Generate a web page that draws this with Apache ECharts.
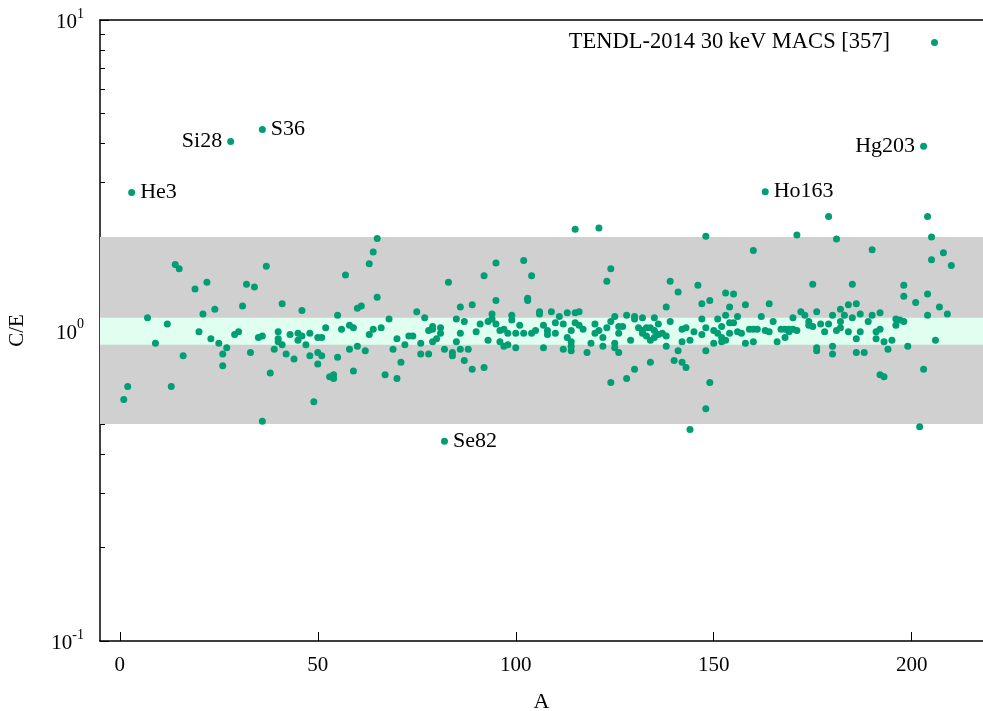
<!DOCTYPE html>
<html>
<head>
<meta charset="utf-8">
<title>TENDL-2014 30 keV MACS C/E</title>
<script src="https://cdn.jsdelivr.net/npm/echarts@6/dist/echarts.min.js"></script>
<style>
  html, body { margin: 0; padding: 0; background: #ffffff; }
  #chart { width: 983px; height: 711px; }
</style>
</head>
<body>
<div id="chart"></div>
<script>
// Calculated / experimental Maxwellian-averaged cross sections at 30 keV,
// one [A, C/E] pair per nuclide, grouped by mass range.
const lightNuclei = [
  [1,0.60],[2,0.66],[7,1.10],[9,0.91],[12,1.05],[13,0.66],[14,1.63],[15,1.58],[16,0.83],
  [19,1.36],[20,0.99],[21,1.13],[22,1.43],[23,0.94],[24,1.17],[25,0.91],[26,0.84],[26,0.77],
  [27,0.88],[29,0.97],[30,0.99],[31,1.20],[32,1.41],[33,0.85],[34,1.38],[35,0.95],[36,0.96],
  [36,0.51],[37,1.61],[38,0.73],[39,0.87],[40,0.99],[40,0.94],[40,0.92],[41,1.22],[41,0.90],
  [42,0.84],[43,0.97],[44,0.81],[45,0.98],[45,0.93],[46,1.16],[46,0.96],[47,0.90],[48,0.98],
  [48,0.83],[49,0.59],[50,0.95],[50,0.85],[50,0.78],[51,0.95],[51,0.83],[52,1.02],[53,0.71],
  [54,0.72],[54,0.70]
];
const mediumNuclei = [
  [55,1.12],[55,0.82],[56,1.01],[57,1.51],[58,1.04],[58,0.87],[59,1.02],[59,0.74],[60,1.18],
  [60,0.89],[61,1.20],[62,0.86],[63,1.64],[63,0.97],[64,1.79],[64,1.01],[65,1.98],[65,1.28],
  [66,1.02],[67,0.72],[68,1.09],[69,0.87],[70,0.70],[70,0.94],[71,0.79],[72,0.90],[73,0.96],
  [74,0.96],[75,1.15],[76,0.91],[76,0.84],[77,1.10],[78,0.84],[78,1.00],[79,1.03],[79,1.01],
  [79,0.92],[80,0.94],[81,1.02],[81,0.98],[82,0.87],[83,1.43],[84,0.85],[84,0.83],[85,0.92],
  [85,1.09],[86,1.19],[86,0.98],[86,0.87],[87,1.07],[87,0.80],[88,0.87],[89,1.21],[89,0.75],
  [90,0.99],[91,1.05],[92,1.50],[92,0.76],[93,0.93],[93,1.07],[94,1.13],[94,1.09],[95,1.65],
  [95,1.25],[95,1.05],[96,1.00],[96,0.92],[97,0.89],[97,1.01],[98,0.98],[98,0.90],[99,1.12],
  [99,1.08],[100,0.98],[100,0.88],[101,1.04],[102,1.68],[102,0.98],[103,1.27],[103,1.25],
  [104,1.50],[104,0.98],[105,1.00],[106,1.15],[106,1.13],[107,1.04],[107,0.88],[108,1.00],
  [108,0.97],[109,1.15]
];
const heavyNuclei = [
  [110,1.06],[110,0.98],[111,1.11],[112,1.05],[112,0.87],[113,1.14],[113,0.95],[114,1.00],
  [114,0.92],[114,0.89],[114,0.86],[115,2.12],[115,1.14],[115,1.06],[116,1.15],[116,1.04],
  [117,1.01],[118,0.85],[119,0.91],[120,0.98],[120,1.05],[121,2.14],[121,1.00],[122,0.95],
  [122,0.89],[123,1.44],[123,1.02],[124,1.58],[124,1.07],[124,0.68],[125,1.11],[125,0.91],
  [125,0.88],[126,1.03],[126,0.98],[126,0.85],[127,1.03],[128,1.12],[128,0.70],[129,0.93],
  [130,1.11],[130,1.09],[130,0.75],[131,1.02],[132,1.10],[132,1.00],[132,0.98],[133,1.02],
  [133,0.96],[134,1.02],[134,0.93],[134,0.79],[135,1.10],[135,1.00],[135,0.95],[136,1.05],
  [136,0.97],[137,0.98],[138,1.19],[138,0.96],[138,0.89],[139,1.44],[139,1.07],[140,0.80],
  [141,1.33],[141,0.86],[142,0.79],[142,0.92],[142,1.01],[143,1.02],[143,0.76],[144,0.93],
  [144,0.48],[145,0.99],[146,1.40],[147,1.22],[147,1.09],[147,0.97],[148,2.01],[148,1.02],
  [148,0.86],[148,0.56],[149,1.25],[149,0.68],[150,1.00],[150,0.91],[151,1.09],[151,0.98],
  [152,1.03],[152,0.95],[152,0.92],[153,1.32],[153,1.12],[153,0.93],[154,1.19],[154,1.06],
  [154,0.98],[155,1.31],[155,1.06],[156,1.11],[156,0.99],[157,0.98],[158,1.21],[158,0.91],
  [159,1.01],[160,1.81],[160,1.01],[160,0.92],[161,1.01],[162,1.11],[163,1.00],[164,1.22],
  [164,0.99]
];
const veryHeavyNuclei = [
  [165,1.07],[166,0.92],[167,1.01],[168,1.01],[168,0.95],[169,1.01],[169,0.99],[170,1.10],
  [170,1.01],[171,2.03],[171,1.00],[172,1.15],[173,1.12],[174,1.07],[174,1.04],[175,1.41],
  [175,1.03],[176,1.15],[176,0.88],[176,0.86],[177,1.05],[178,0.99],[179,2.33],[179,1.05],
  [180,1.12],[180,0.89],[180,0.84],[181,1.97],[181,1.00],[182,1.17],[182,1.07],[182,1.02],
  [183,1.12],[184,1.21],[184,0.99],[185,1.41],[185,1.10],[186,1.22],[186,0.94],[186,0.85],
  [187,1.13],[187,0.99],[188,0.85],[189,1.07],[190,1.82],[190,1.12],[191,0.99],[191,0.94],
  [192,1.14],[192,1.01],[192,0.72],[193,0.92],[193,0.71],[194,0.87],[195,0.93],[196,1.09],
  [196,1.04],[197,1.08],[198,1.40],[198,1.29],[198,1.07],[199,0.89],[201,1.23],[202,0.49],
  [203,0.75],[204,2.33],[204,1.31],[204,1.12],[205,2.00],[205,1.69],[206,0.93],[207,1.19],
  [208,1.78],[209,1.13],[210,1.62]
];
// Outliers that carry their nuclide name, with the side the name sits on.
const namedNuclides = ['He3', 'Si28', 'S36', 'Se82', 'Ho163', 'Hg203'];
const namedA        = [3, 28, 36, 82, 163, 203];
const namedRatio    = [2.78, 4.06, 4.44, 0.44, 2.80, 3.92];
const namedSide     = ['right', 'left', 'right', 'right', 'right', 'left'];

// Reference bands: +-10 % and factor-of-two agreement.
const wideBand   = [0.5, 2.0];
const narrowBand = [0.9, 1.1];

const xTicks = [0, 50, 100, 150, 200];
const yMajor = [0.1, 1, 10];
const yMinor = [0.2, 0.3, 0.4, 0.5, 0.6, 0.7, 0.8, 0.9, 2, 3, 4, 5, 6, 7, 8, 9];

const seriesName = 'TENDL-2014 30 keV MACS [357]';
const pointColor = '#009e73';
const serif = '"Liberation Serif", "DejaVu Serif", serif';

const allPoints = [].concat(lightNuclei, mediumNuclei, heavyNuclei, veryHeavyNuclei);
const namedPoints = namedNuclides.map((n, i) => ({
  name: n,
  value: [namedA[i], namedRatio[i]],
  label: { show: true, position: namedSide[i], formatter: n }
}));

const chart = echarts.init(document.getElementById('chart'), null, { renderer: 'canvas' });

const axisBlack = { onZero: false, lineStyle: { color: '#000', width: 1.5 } };

chart.setOption({
  animation: false,
  backgroundColor: '#ffffff',
  grid: { left: 100, right: 0, top: 20, bottom: 70, outerBoundsMode: 'none', containLabel: false },
  legend: {
    data: [seriesName],
    right: 40,
    top: 26,
    align: 'right',
    icon: 'circle',
    itemWidth: 7,
    itemHeight: 7,
    itemGap: 0,
    textStyle: { fontFamily: serif, fontSize: 22.5, color: '#000', padding: [0, 36, 0, 0] }
  },
  xAxis: [
    {
      type: 'value', min: -5, max: 218, position: 'bottom', offset: 0,
      name: 'A', nameLocation: 'middle', nameGap: 50,
      nameTextStyle: { fontFamily: serif, fontSize: 22, color: '#000' },
      axisLine: axisBlack,
      axisTick: { inside: true, length: 9, customValues: xTicks, lineStyle: { color: '#000', width: 1 } },
      axisLabel: { customValues: xTicks, margin: 14, fontFamily: serif, fontSize: 21, color: '#000' },
      splitLine: { show: false }
    },
    {
      type: 'value', min: -5, max: 218, position: 'top', offset: 0,
      axisLine: axisBlack, axisTick: { show: false }, axisLabel: { show: false }, splitLine: { show: false }
    }
  ],
  yAxis: [
    {
      type: 'log', logBase: 10, min: 0.1, max: 10, position: 'left', offset: 0,
      name: 'C/E', nameLocation: 'middle', nameGap: 72, nameRotate: 90,
      nameTextStyle: { fontFamily: serif, fontSize: 21, color: '#000' },
      axisLine: axisBlack,
      axisTick: { inside: true, length: 9, customValues: yMajor, lineStyle: { color: '#000', width: 1 } },
      axisLabel: {
        customValues: yMajor,
        margin: 16,
        formatter: v => '{b|10}{s|' + Math.round(Math.log10(v)) + '}',
        rich: {
          b: { fontFamily: serif, fontSize: 21, color: '#000', lineHeight: 26, verticalAlign: 'bottom' },
          s: { fontFamily: serif, fontSize: 14, color: '#000', lineHeight: 14, verticalAlign: 'top' }
        }
      },
      splitLine: { show: false }
    },
    {
      type: 'log', logBase: 10, min: 0.1, max: 10, position: 'left', offset: 0,
      axisLine: { show: false, onZero: false },
      axisTick: { inside: true, length: 5, customValues: yMinor, lineStyle: { color: '#000', width: 1 } },
      axisLabel: { show: false },
      splitLine: { show: false }
    }
  ],
  series: [
    {
      type: 'scatter',
      name: 'bands',
      data: [],
      silent: true,
      markArea: {
        silent: true,
        data: [
          [{ yAxis: wideBand[0], itemStyle: { color: '#d0d0d0' } }, { yAxis: wideBand[1] }],
          [{ yAxis: narrowBand[0], itemStyle: { color: '#e0fff0' } }, { yAxis: narrowBand[1] }]
        ]
      }
    },
    {
      type: 'scatter',
      name: seriesName,
      symbol: 'circle',
      symbolSize: 7,
      itemStyle: { color: pointColor, opacity: 1 },
      data: allPoints,
      z: 3
    },
    {
      type: 'scatter',
      name: seriesName,
      symbol: 'circle',
      symbolSize: 7,
      itemStyle: { color: pointColor, opacity: 1 },
      label: { fontFamily: serif, fontSize: 22, color: '#000', distance: 5 },
      data: namedPoints,
      z: 3
    }
  ]
});
</script>
</body>
</html>
